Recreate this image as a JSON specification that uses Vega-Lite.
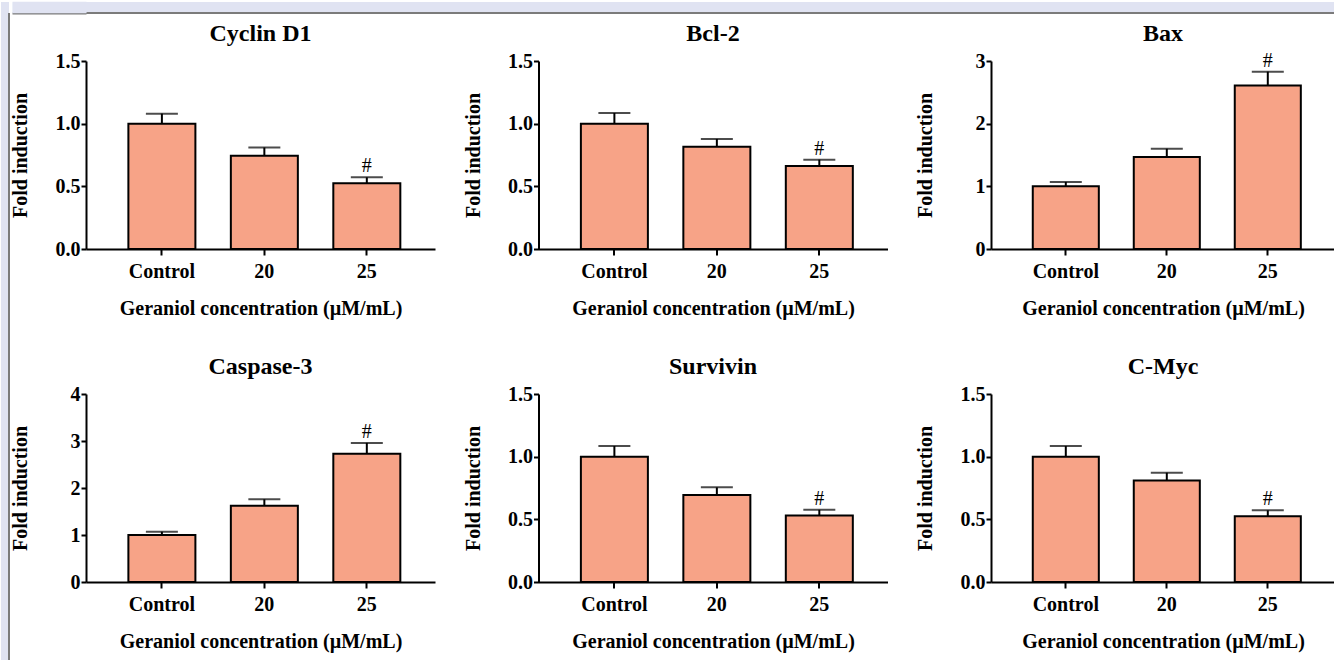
{
  "$schema": "https://vega.github.io/schema/vega-lite/v6.json",
  "background": "white",
  "padding": 0,
  "datasets": {
    "d": [
      {"panel": "Cyclin D1", "group": "Control", "value": 1.0, "upper": 1.08, "sig": ""},
      {"panel": "Cyclin D1", "group": "20", "value": 0.745, "upper": 0.81, "sig": ""},
      {"panel": "Cyclin D1", "group": "25", "value": 0.525, "upper": 0.572, "sig": "#"},
      {"panel": "Bcl-2", "group": "Control", "value": 1.0, "upper": 1.085, "sig": ""},
      {"panel": "Bcl-2", "group": "20", "value": 0.815, "upper": 0.878, "sig": ""},
      {"panel": "Bcl-2", "group": "25", "value": 0.662, "upper": 0.713, "sig": "#"},
      {"panel": "Bax", "group": "Control", "value": 1.0, "upper": 1.07, "sig": ""},
      {"panel": "Bax", "group": "20", "value": 1.47, "upper": 1.6, "sig": ""},
      {"panel": "Bax", "group": "25", "value": 2.61, "upper": 2.83, "sig": "#"},
      {"panel": "Caspase-3", "group": "Control", "value": 1.0, "upper": 1.07, "sig": ""},
      {"panel": "Caspase-3", "group": "20", "value": 1.62, "upper": 1.76, "sig": ""},
      {"panel": "Caspase-3", "group": "25", "value": 2.73, "upper": 2.96, "sig": "#"},
      {"panel": "Survivin", "group": "Control", "value": 1.0, "upper": 1.085, "sig": ""},
      {"panel": "Survivin", "group": "20", "value": 0.695, "upper": 0.755, "sig": ""},
      {"panel": "Survivin", "group": "25", "value": 0.53, "upper": 0.576, "sig": "#"},
      {"panel": "C-Myc", "group": "Control", "value": 1.0, "upper": 1.085, "sig": ""},
      {"panel": "C-Myc", "group": "20", "value": 0.81, "upper": 0.872, "sig": ""},
      {"panel": "C-Myc", "group": "25", "value": 0.525, "upper": 0.572, "sig": "#"}
    ]
  },
  "hconcat": [
    {
      "width": 8, "height": 659,
      "data": {"values": []},
      "mark": {"type": "point", "opacity": 0},
      "view": {"fill": "#e0e3f2", "stroke": "#7b7b7b", "strokeWidth": 2, "strokeDash": [0, 19, 648, 667]}
    },
    {
      "columns": 1,
      "spacing": 4,
      "concat": [
        {
          "width": 1325, "height": 11,
          "data": {"values": [{}]},
          "mark": {"type": "point", "opacity": 0},
          "encoding": {
            "y": {"datum": 0, "type": "quantitative", "scale": {"domain": [0, 11], "nice": false, "zero": false},
              "axis": {"values": [11, 10, 9, 8, 7, 6, 5, 4, 3, 2, 1, 0], "labels": false, "domain": false, "title": null, "grid": false, "tickSize": 74, "minExtent": 0, "maxExtent": 200,
                "tickWidth": {"condition": {"test": "datum.value < 0.5", "value": 2}, "value": 1.5},
                "tickColor": {"condition": {"test": "datum.value < 0.5", "value": "#7b7b7b"}, "value": "#e0e3f2"}}}
          },
          "view": {"fill": "#e0e3f2", "stroke": "#7b7b7b", "strokeWidth": 2, "strokeDash": [0, 1336, 1325, 11]}
        },
        {
          "columns": 3,
          "align": "each",
          "spacing": {"row": 37, "column": 27.5},
          "concat": [
            {
              "width": 349, "height": 188,
              "title": {"text": "Cyclin D1"},
              "data": {"name": "d"},
              "transform": [{"filter": "datum.panel === 'Cyclin D1'"}],
              "encoding": {"x": {"field": "group", "type": "nominal", "sort": ["Control", "20", "25"], "scale": {"paddingInner": 0.346, "paddingOuter": 0.376, "align": 0.55}, "axis": {"title": "Geraniol concentration (µM/mL)"}}},
              "layer": [
                {"mark": {"type": "bar", "fill": "#f7a387", "stroke": "black", "strokeWidth": 2}, "encoding": {"y": {"field": "value", "type": "quantitative", "scale": {"domain": [0, 1.5], "nice": false}, "axis": {"title": "Fold induction", "values": [0, 0.5, 1, 1.5], "format": ".1f"}}}},
                {"mark": {"type": "rule", "color": "black", "strokeWidth": 2}, "encoding": {"y": {"field": "value", "type": "quantitative", "scale": {"domain": [0, 1.5], "nice": false}}, "y2": {"field": "upper"}}},
                {"mark": {"type": "tick", "color": "black", "size": 32, "thickness": 2}, "encoding": {"y": {"field": "upper", "type": "quantitative", "scale": {"domain": [0, 1.5], "nice": false}}}},
                {"mark": {"type": "text", "font": "Liberation Serif", "fontSize": 20, "baseline": "alphabetic", "dy": -5, "color": "black"}, "encoding": {"y": {"field": "upper", "type": "quantitative", "scale": {"domain": [0, 1.5], "nice": false}}, "text": {"field": "sig"}}}
              ]
            },
            {
              "width": 349, "height": 188,
              "title": {"text": "Bcl-2"},
              "data": {"name": "d"},
              "transform": [{"filter": "datum.panel === 'Bcl-2'"}],
              "encoding": {"x": {"field": "group", "type": "nominal", "sort": ["Control", "20", "25"], "scale": {"paddingInner": 0.346, "paddingOuter": 0.376, "align": 0.55}, "axis": {"title": "Geraniol concentration (µM/mL)"}}},
              "layer": [
                {"mark": {"type": "bar", "fill": "#f7a387", "stroke": "black", "strokeWidth": 2}, "encoding": {"y": {"field": "value", "type": "quantitative", "scale": {"domain": [0, 1.5], "nice": false}, "axis": {"title": "Fold induction", "values": [0, 0.5, 1, 1.5], "format": ".1f"}}}},
                {"mark": {"type": "rule", "color": "black", "strokeWidth": 2}, "encoding": {"y": {"field": "value", "type": "quantitative", "scale": {"domain": [0, 1.5], "nice": false}}, "y2": {"field": "upper"}}},
                {"mark": {"type": "tick", "color": "black", "size": 32, "thickness": 2}, "encoding": {"y": {"field": "upper", "type": "quantitative", "scale": {"domain": [0, 1.5], "nice": false}}}},
                {"mark": {"type": "text", "font": "Liberation Serif", "fontSize": 20, "baseline": "alphabetic", "dy": -5, "color": "black"}, "encoding": {"y": {"field": "upper", "type": "quantitative", "scale": {"domain": [0, 1.5], "nice": false}}, "text": {"field": "sig"}}}
              ]
            },
            {
              "width": 344, "height": 188,
              "title": {"text": "Bax"},
              "data": {"name": "d"},
              "transform": [{"filter": "datum.panel === 'Bax'"}],
              "encoding": {"x": {"field": "group", "type": "nominal", "sort": ["Control", "20", "25"], "scale": {"paddingInner": 0.346, "paddingOuter": 0.376, "align": 0.55}, "axis": {"title": "Geraniol concentration (µM/mL)"}}},
              "layer": [
                {"mark": {"type": "bar", "fill": "#f7a387", "stroke": "black", "strokeWidth": 2}, "encoding": {"y": {"field": "value", "type": "quantitative", "scale": {"domain": [0, 3], "nice": false}, "axis": {"title": "Fold induction", "values": [0, 1, 2, 3], "format": "d"}}}},
                {"mark": {"type": "rule", "color": "black", "strokeWidth": 2}, "encoding": {"y": {"field": "value", "type": "quantitative", "scale": {"domain": [0, 3], "nice": false}}, "y2": {"field": "upper"}}},
                {"mark": {"type": "tick", "color": "black", "size": 32, "thickness": 2}, "encoding": {"y": {"field": "upper", "type": "quantitative", "scale": {"domain": [0, 3], "nice": false}}}},
                {"mark": {"type": "text", "font": "Liberation Serif", "fontSize": 20, "baseline": "alphabetic", "dy": -5, "color": "black"}, "encoding": {"y": {"field": "upper", "type": "quantitative", "scale": {"domain": [0, 3], "nice": false}}, "text": {"field": "sig"}}}
              ]
            },
            {
              "width": 349, "height": 188,
              "title": {"text": "Caspase-3"},
              "data": {"name": "d"},
              "transform": [{"filter": "datum.panel === 'Caspase-3'"}],
              "encoding": {"x": {"field": "group", "type": "nominal", "sort": ["Control", "20", "25"], "scale": {"paddingInner": 0.346, "paddingOuter": 0.376, "align": 0.55}, "axis": {"title": "Geraniol concentration (µM/mL)"}}},
              "layer": [
                {"mark": {"type": "bar", "fill": "#f7a387", "stroke": "black", "strokeWidth": 2}, "encoding": {"y": {"field": "value", "type": "quantitative", "scale": {"domain": [0, 4], "nice": false}, "axis": {"title": "Fold induction", "values": [0, 1, 2, 3, 4], "format": "d"}}}},
                {"mark": {"type": "rule", "color": "black", "strokeWidth": 2}, "encoding": {"y": {"field": "value", "type": "quantitative", "scale": {"domain": [0, 4], "nice": false}}, "y2": {"field": "upper"}}},
                {"mark": {"type": "tick", "color": "black", "size": 32, "thickness": 2}, "encoding": {"y": {"field": "upper", "type": "quantitative", "scale": {"domain": [0, 4], "nice": false}}}},
                {"mark": {"type": "text", "font": "Liberation Serif", "fontSize": 20, "baseline": "alphabetic", "dy": -5, "color": "black"}, "encoding": {"y": {"field": "upper", "type": "quantitative", "scale": {"domain": [0, 4], "nice": false}}, "text": {"field": "sig"}}}
              ]
            },
            {
              "width": 349, "height": 188,
              "title": {"text": "Survivin"},
              "data": {"name": "d"},
              "transform": [{"filter": "datum.panel === 'Survivin'"}],
              "encoding": {"x": {"field": "group", "type": "nominal", "sort": ["Control", "20", "25"], "scale": {"paddingInner": 0.346, "paddingOuter": 0.376, "align": 0.55}, "axis": {"title": "Geraniol concentration (µM/mL)"}}},
              "layer": [
                {"mark": {"type": "bar", "fill": "#f7a387", "stroke": "black", "strokeWidth": 2}, "encoding": {"y": {"field": "value", "type": "quantitative", "scale": {"domain": [0, 1.5], "nice": false}, "axis": {"title": "Fold induction", "values": [0, 0.5, 1, 1.5], "format": ".1f"}}}},
                {"mark": {"type": "rule", "color": "black", "strokeWidth": 2}, "encoding": {"y": {"field": "value", "type": "quantitative", "scale": {"domain": [0, 1.5], "nice": false}}, "y2": {"field": "upper"}}},
                {"mark": {"type": "tick", "color": "black", "size": 32, "thickness": 2}, "encoding": {"y": {"field": "upper", "type": "quantitative", "scale": {"domain": [0, 1.5], "nice": false}}}},
                {"mark": {"type": "text", "font": "Liberation Serif", "fontSize": 20, "baseline": "alphabetic", "dy": -5, "color": "black"}, "encoding": {"y": {"field": "upper", "type": "quantitative", "scale": {"domain": [0, 1.5], "nice": false}}, "text": {"field": "sig"}}}
              ]
            },
            {
              "width": 344, "height": 188,
              "title": {"text": "C-Myc"},
              "data": {"name": "d"},
              "transform": [{"filter": "datum.panel === 'C-Myc'"}],
              "encoding": {"x": {"field": "group", "type": "nominal", "sort": ["Control", "20", "25"], "scale": {"paddingInner": 0.346, "paddingOuter": 0.376, "align": 0.55}, "axis": {"title": "Geraniol concentration (µM/mL)"}}},
              "layer": [
                {"mark": {"type": "bar", "fill": "#f7a387", "stroke": "black", "strokeWidth": 2}, "encoding": {"y": {"field": "value", "type": "quantitative", "scale": {"domain": [0, 1.5], "nice": false}, "axis": {"title": "Fold induction", "values": [0, 0.5, 1, 1.5], "format": ".1f"}}}},
                {"mark": {"type": "rule", "color": "black", "strokeWidth": 2}, "encoding": {"y": {"field": "value", "type": "quantitative", "scale": {"domain": [0, 1.5], "nice": false}}, "y2": {"field": "upper"}}},
                {"mark": {"type": "tick", "color": "black", "size": 32, "thickness": 2}, "encoding": {"y": {"field": "upper", "type": "quantitative", "scale": {"domain": [0, 1.5], "nice": false}}}},
                {"mark": {"type": "text", "font": "Liberation Serif", "fontSize": 20, "baseline": "alphabetic", "dy": -5, "color": "black"}, "encoding": {"y": {"field": "upper", "type": "quantitative", "scale": {"domain": [0, 1.5], "nice": false}}, "text": {"field": "sig"}}}
              ]
            }
          ]
        }
      ]
    }
  ],
  "spacing": 0,
  "config": {
    "view": {"stroke": null},
    "font": "Liberation Serif",
    "axis": {"domainColor": "black", "domainWidth": 2, "tickColor": "black", "tickWidth": 2, "labelFont": "Liberation Serif", "labelFontSize": 20, "labelFontWeight": "bold", "labelColor": "black", "titleFont": "Liberation Serif", "titleFontSize": 20, "titleFontWeight": "bold", "titleColor": "black", "grid": false},
    "axisX": {"labelAngle": 0, "tickSize": 6, "labelPadding": 6, "titlePadding": 17},
    "axisY": {"tickSize": 5, "labelPadding": 1, "minExtent": 34, "maxExtent": 34, "titlePadding": 21.5},
    "title": {"font": "Liberation Serif", "fontSize": 24, "fontWeight": "bold", "color": "black", "frame": "group", "anchor": "middle", "offset": 5}
  }
}
